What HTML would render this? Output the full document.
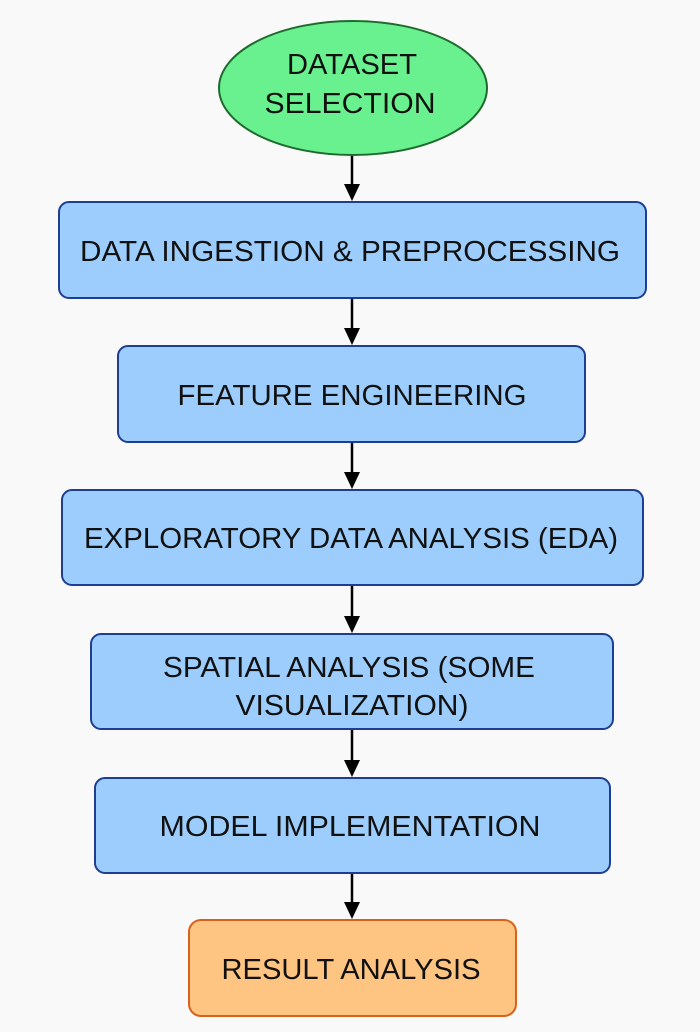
<!DOCTYPE html>
<html><head><meta charset="utf-8"><style>
html,body{margin:0;padding:0;background:#f9f9f9;}
svg{display:block}
text{font-family:"Liberation Sans",sans-serif;font-size:29px;fill:#111;text-anchor:middle;}
</style></head><body>
<svg width="700" height="1032" viewBox="0 0 700 1032" xmlns="http://www.w3.org/2000/svg">
<rect width="700" height="1032" fill="#f9f9f9"/>
<ellipse cx="353" cy="88" rx="134" ry="67" fill="#69f190" stroke="#1f6b2e" stroke-width="2"/>
<text x="352" y="74" textLength="130" lengthAdjust="spacingAndGlyphs">DATASET</text>
<text x="350" y="113" textLength="171" lengthAdjust="spacingAndGlyphs">SELECTION</text>
<g stroke="#000" stroke-width="2.5">
<line x1="352" y1="156" x2="352" y2="188"/>
<line x1="352" y1="299" x2="352" y2="332"/>
<line x1="352" y1="443" x2="352" y2="476"/>
<line x1="352" y1="586" x2="352" y2="620"/>
<line x1="352" y1="730" x2="352" y2="764"/>
<line x1="352" y1="874" x2="352" y2="906"/>
</g>
<g fill="#000">
<polygon points="344,184 360,184 352,201"/>
<polygon points="344,328 360,328 352,345"/>
<polygon points="344,472 360,472 352,489"/>
<polygon points="344,616 360,616 352,633"/>
<polygon points="344,760 360,760 352,777"/>
<polygon points="344,902 360,902 352,919"/>
</g>
<g fill="#9dcdfc" stroke="#1e3f91" stroke-width="2">
<rect x="59" y="202" width="587" height="96" rx="10"/>
<rect x="118" y="346" width="467" height="96" rx="10"/>
<rect x="62" y="490" width="581" height="95" rx="10"/>
<rect x="91" y="634" width="522" height="95" rx="10"/>
<rect x="95" y="778" width="515" height="95" rx="10"/>
</g>
<rect x="189" y="920" width="327" height="96" rx="12" fill="#fec582" stroke="#d9621a" stroke-width="2"/>
<text x="350" y="261" textLength="540" lengthAdjust="spacingAndGlyphs">DATA INGESTION &amp; PREPROCESSING</text>
<text x="352" y="405" textLength="349" lengthAdjust="spacingAndGlyphs">FEATURE ENGINEERING</text>
<text x="351" y="548" textLength="534" lengthAdjust="spacingAndGlyphs">EXPLORATORY DATA ANALYSIS (EDA)</text>
<text x="349" y="677" textLength="372" lengthAdjust="spacingAndGlyphs">SPATIAL ANALYSIS (SOME</text>
<text x="352" y="715" textLength="233" lengthAdjust="spacingAndGlyphs">VISUALIZATION)</text>
<text x="350" y="836" textLength="381" lengthAdjust="spacingAndGlyphs">MODEL IMPLEMENTATION</text>
<text x="351" y="979" textLength="259" lengthAdjust="spacingAndGlyphs">RESULT ANALYSIS</text>
</svg>
</body></html>
